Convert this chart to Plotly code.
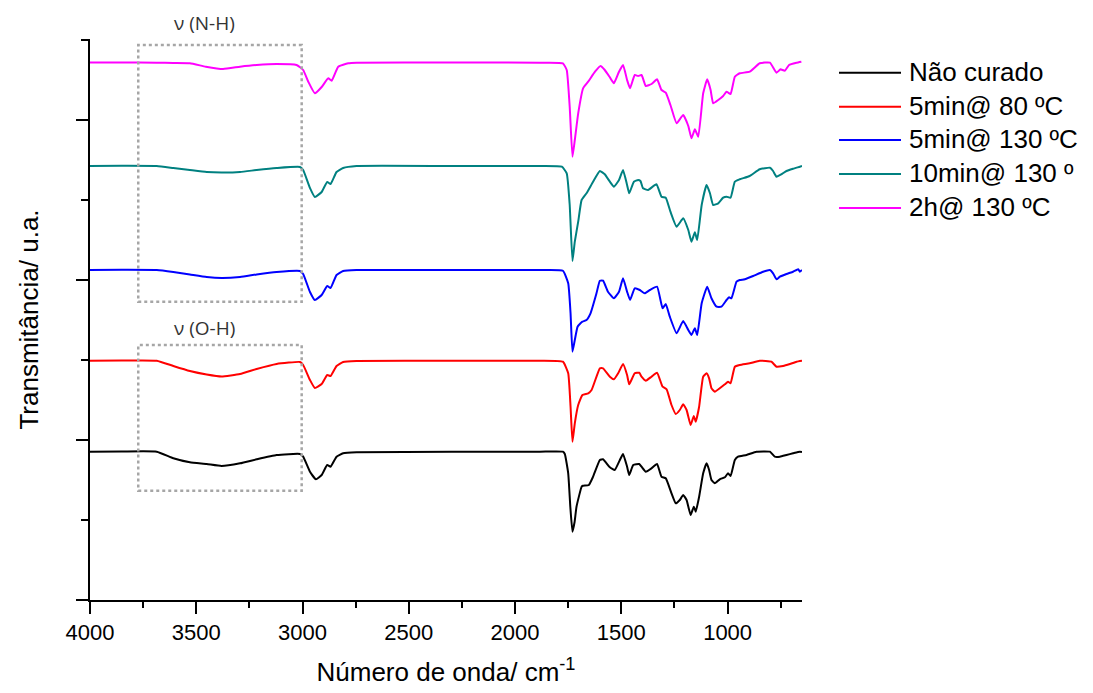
import plotly.graph_objects as go

# ---------------- data (wavenumber in cm-1, transmittance in a.u. with vertical offsets) -------------
wn_nao_curado = [4000, 3850, 3686, 3608, 3530, 3451, 3381, 3294, 3216, 3122, 3012, 2997, 2965, 2937, 2910,
                 2884, 2868, 2840, 2809, 2746, 2300, 1883, 1775, 1766, 1750, 1740, 1730, 1720, 1711, 1687,
                 1681, 1653, 1633, 1601, 1586, 1554, 1531, 1507, 1492, 1473, 1463, 1444, 1416, 1405, 1385,
                 1358, 1332, 1311, 1291, 1264, 1244, 1225, 1209, 1193, 1174, 1159, 1150, 1134, 1115, 1099,
                 1087, 1076, 1060, 1037, 1013, 998, 986, 966, 951, 911, 864, 801, 778, 754, 723, 692, 660, 650]
t_nao_curado = [148.3, 148.5, 148.3, 141.7, 137.7, 136, 134, 136.7, 140.7, 145, 146, 143.3, 128.3, 120.7, 125,
                135, 133.3, 143.3, 146.7, 147.7, 148.3, 148.3, 148.3, 146, 126.7, 93, 68.3, 78, 93.3, 113.3,
                114.3, 115, 123.3, 140, 140.7, 132.7, 130, 140, 146, 133.3, 125, 135, 136, 133.3, 128.3,
                131.7, 136, 123.3, 121.7, 106.7, 96.7, 100, 105, 100, 85, 93.3, 88.3, 103.3, 126.7, 136.7,
                130, 120, 116.7, 120.7, 122.7, 126.7, 124, 140, 143.3, 145, 148.3, 148.3, 143.3, 143.3, 145, 146.7, 148.3, 148]

wn_5min_80 = [4000, 3850, 3686, 3608, 3530, 3451, 3381, 3294, 3216, 3122, 3012, 2997, 2965, 2942, 2910,
              2884, 2868, 2840, 2809, 2746, 2300, 1883, 1775, 1750, 1739, 1730, 1719, 1703, 1683, 1656,
              1640, 1601, 1586, 1554, 1535, 1515, 1492, 1473, 1463, 1437, 1416, 1405, 1385, 1358, 1332,
              1306, 1287, 1264, 1244, 1225, 1209, 1193, 1174, 1159, 1150, 1134, 1115, 1099, 1087, 1076,
              1060, 1037, 1013, 998, 986, 966, 943, 896, 849, 794, 770, 739, 707, 676, 650]
t_5min_80 = [239.3, 239.5, 239.3, 234, 229, 225.5, 223.5, 226, 231, 236, 238, 235, 220, 212, 216,
             225, 224, 234, 238, 239, 239.3, 239.3, 238.3, 226.7, 193.3, 158.3, 176.7, 195, 205, 206.7,
             210, 231.7, 231.7, 223.3, 220.7, 226.7, 236, 225, 215.7, 226.7, 227.3, 223.3, 219.3, 223.3, 227.3,
             213.3, 210.7, 195, 186, 190, 195.7, 190, 175, 184, 178.3, 193.3, 223.3, 226.7, 221.7, 211.7,
             208.3, 211.7, 215.7, 218.3, 216.7, 233.3, 235, 236.7, 239.3, 238.3, 233.3, 234, 236, 238.3, 239.3]

wn_5min_130 = [4000, 3850, 3686, 3608, 3530, 3451, 3381, 3294, 3216, 3122, 3012, 2997, 2965, 2942, 2910,
               2884, 2868, 2840, 2809, 2746, 2300, 1883, 1775, 1750, 1739, 1730, 1719, 1706, 1692, 1683,
               1664, 1645, 1617, 1601, 1586, 1563, 1535, 1511, 1492, 1473, 1459, 1437, 1413, 1390, 1366,
               1332, 1306, 1291, 1272, 1240, 1209, 1185, 1170, 1154, 1143, 1122, 1096, 1076, 1052, 1029,
               1005, 993, 982, 958, 943, 919, 880, 833, 801, 786, 770, 754, 723, 692, 668, 660, 650]
t_5min_130 = [330, 330.2, 330, 328, 325.5, 323, 322, 323, 325.5, 328, 329, 326, 308, 300, 305,
              314, 312, 325, 329, 330, 330, 330, 329.3, 316.7, 286.7, 248.3, 260, 273.3, 276.7, 278.3,
              280, 286.7, 306.7, 319.3, 319.3, 308.3, 301.7, 308.3, 321.7, 308.3, 300, 311.7, 310, 306.7, 310,
              313.3, 291.7, 296, 283.3, 266.7, 279, 270, 265, 271.7, 265, 296.7, 313.3, 301.7, 293.3, 293.3,
              300, 302.7, 301.7, 318.3, 320, 320.7, 324, 328.3, 330, 326.7, 320.7, 323.3, 326, 328.3, 330.7, 328.3, 330]

wn_10min_130 = [4000, 3850, 3686, 3608, 3530, 3451, 3381, 3294, 3216, 3122, 3012, 2997, 2965, 2942, 2910,
                2884, 2868, 2840, 2809, 2746, 2300, 1883, 1780, 1757, 1743, 1730, 1719, 1703, 1687, 1664,
                1633, 1601, 1578, 1554, 1535, 1511, 1492, 1473, 1463, 1441, 1421, 1410, 1398, 1374, 1335,
                1311, 1291, 1269, 1240, 1209, 1185, 1170, 1154, 1143, 1122, 1099, 1083, 1068, 1044, 1021,
                1005, 986, 966, 943, 896, 849, 801, 786, 770, 747, 723, 692, 660, 650]
t_10min_130 = [434, 434.2, 434, 432, 430, 428, 427.5, 428, 430, 432, 433, 430, 412, 403, 408,
               418, 416, 428, 432, 434, 434, 434, 433.3, 426.7, 395, 339, 358.3, 378.3, 400, 406.7,
               418.3, 429, 425.7, 418.3, 413.3, 420, 430, 415, 406.7, 418.3, 420, 419, 411.7, 410, 415.7,
               403.3, 402.3, 388.3, 373.3, 381.7, 370, 358.3, 367.7, 360, 395, 415, 406.7, 395, 396.7, 402.3,
               403.3, 402.3, 418.3, 420.7, 424, 430.7, 432.3, 429, 423.3, 425.7, 429, 431.3, 433.3, 434]

wn_2h_130 = [4000, 3850, 3686, 3608, 3530, 3455, 3374, 3294, 3216, 3122, 3028, 2997, 2973, 2942, 2910,
             2879, 2863, 2832, 2785, 2746, 2300, 1883, 1775, 1757, 1743, 1730, 1719, 1703, 1680, 1656,
             1624, 1598, 1578, 1554, 1535, 1511, 1492, 1473, 1459, 1437, 1421, 1405, 1385, 1358, 1332,
             1311, 1291, 1269, 1240, 1209, 1185, 1170, 1154, 1138, 1115, 1096, 1080, 1068, 1044, 1021,
             1005, 986, 966, 943, 896, 849, 801, 770, 751, 731, 711, 676, 653]
t_2h_130 = [537.5, 537.5, 537.3, 537, 536.7, 533.3, 531, 533.3, 535, 536, 535, 530, 518.3, 506.7, 513,
            521.7, 519.3, 533.3, 536.7, 537.3, 537.5, 537.3, 536.7, 530, 493.3, 443.3, 460, 486.7, 511.7, 518.3,
            528.3, 534, 530, 522.7, 516.7, 528.3, 535, 520, 511.7, 525, 524, 525, 514, 516, 520.7,
            510, 507.3, 495, 476.7, 485, 474, 461.7, 470.7, 463.3, 506.7, 520.7, 510, 496.7, 500, 504,
            508.3, 506, 523.3, 526.7, 528.3, 536.7, 537.3, 527.3, 530.7, 529.3, 535, 537.3, 538.3]

series_names = ["Não curado", "5min@ 80 ºC", "5min@ 130 ºC", "10min@ 130 º", "2h@ 130 ºC"]
series_x = [wn_nao_curado, wn_5min_80, wn_5min_130, wn_10min_130, wn_2h_130]
series_y = [t_nao_curado, t_5min_80, t_5min_130, t_10min_130, t_2h_130]
series_colors = ["#000000", "#ff0000", "#0000ff", "#008080", "#ff00ff"]

x_ticks = [4000, 3500, 3000, 2500, 2000, 1500, 1000]

# band regions (cm-1) and labels
band_labels = ["ν (N-H)", "ν (O-H)"]
band_x = [3773, 3004]

# ---------------- figure -------------
# page has an 8px body margin, so the figure is offset by 8px
OFF = 8
W, H = 1093 - OFF, 693 - OFF
L, T = 90 - OFF, 39 - OFF
R = W - (802 - OFF)
B = H - (600 - OFF)
pw, ph = W - L - R, H - T - B

fig = go.Figure()
for name, xs, ys, c in zip(series_names, series_x, series_y, series_colors):
    fig.add_trace(go.Scatter(x=xs, y=ys, mode="lines", name=name,
                             line=dict(color=c, width=2, shape="spline", smoothing=0.4),
                             showlegend=False))

font_main = "Liberation Sans, Arial, sans-serif"


def px_x(p):
    # page pixel -> paper fraction
    return (p - OFF - L) / pw


def px_y(p):
    return (H - B - (p - OFF)) / ph


# dotted boxes
boxes_y = [(298.3, 555), (109.3, 255)]
for (y0, y1) in boxes_y:
    fig.add_shape(type="rect", xref="x", yref="y", x0=band_x[0], x1=band_x[1], y0=y0, y1=y1,
                  line=dict(color="#a6a6a6", width=2.5, dash="dot"))

label_y_px = [23, 328]
for txt, ly in zip(band_labels, label_y_px):
    fig.add_annotation(x=3459, y=px_y(ly), xref="x", yref="paper", text=txt, showarrow=False,
                       xanchor="center", yanchor="middle",
                       font=dict(family="Open Sans, sans-serif", size=19, color="#333333"))

# legend drawn as line samples + texts
legend_rows = [72.7, 106.7, 140, 174, 208]
for name, c, ry in zip(series_names, series_colors, legend_rows):
    fig.add_shape(type="line", xref="paper", yref="paper", x0=px_x(839), x1=px_x(901),
                  y0=px_y(ry), y1=px_y(ry), line=dict(color=c, width=2))
    fig.add_annotation(xref="paper", yref="paper", x=px_x(907), y=px_y(ry - 1), text=name,
                       showarrow=False, xanchor="left", yanchor="middle",
                       font=dict(family=font_main, size=26, color="#000000"))

fig.update_layout(
    width=W, height=H,
    margin=dict(l=L, r=R, t=T, b=B, autoexpand=False),
    plot_bgcolor="white", paper_bgcolor="white",
    showlegend=False,
    font=dict(family=font_main, color="#000000"),
)

fig.update_xaxes(
    range=[4000, 650], tickvals=x_ticks, ticktext=[str(v) for v in x_ticks],
    ticks="outside", ticklen=12, tickwidth=2, tickcolor="#000000",
    showline=True, linewidth=2, linecolor="#000000", mirror=False,
    showgrid=False, zeroline=False,
    tickfont=dict(family=font_main, size=22, color="#000000"),
    minor=dict(tickvals=[3750, 3250, 2750, 2250, 1750, 1250, 750], ticks="outside",
               ticklen=6, tickwidth=2, tickcolor="#000000", showgrid=False),
    title=dict(text="Número de onda/ cm<sup>-1</sup>", standoff=18,
               font=dict(family=font_main, size=26, color="#000000")),
)
fig.update_yaxes(
    range=[0, 561], tickvals=[0, 160, 320, 480], showticklabels=False,
    ticks="outside", ticklen=12, tickwidth=2, tickcolor="#000000",
    showline=True, linewidth=2, linecolor="#000000", mirror=False,
    showgrid=False, zeroline=False,
    minor=dict(tickvals=[80, 240, 400, 560], ticks="outside",
               ticklen=7, tickwidth=2, tickcolor="#000000", showgrid=False),
    title=dict(text="Transmitância/ u.a.", standoff=30,
               font=dict(family=font_main, size=26, color="#000000")),
)

fig.write_html("out.html")
